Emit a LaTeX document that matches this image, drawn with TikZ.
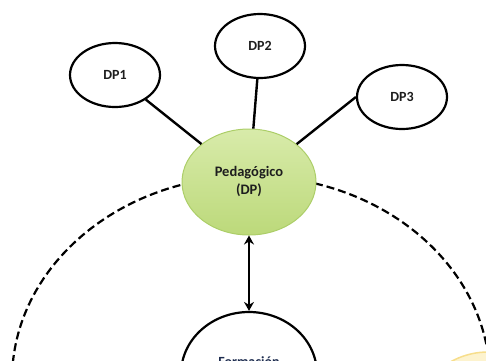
\documentclass[tikz,border=0pt]{standalone}
\usepackage{fontspec}
\setmainfont{Carlito}
\usetikzlibrary{shapes.geometric,arrows.meta}
\definecolor{pedtop}{RGB}{216,235,170}
\definecolor{pedbot}{RGB}{188,217,122}
\definecolor{pededge}{RGB}{172,206,104}
\definecolor{txtdark}{RGB}{30,30,30}
\definecolor{navytxt}{RGB}{30,45,80}
\definecolor{yelfill}{RGB}{253,243,206}
\definecolor{yeledge}{RGB}{247,222,140}
\tikzset{
  dpbubble/.style={ellipse, draw=black, line width=2.2pt, fill=white,
    minimum width=90pt, minimum height=64pt, inner sep=0pt,
    font=\bfseries\fontsize{14}{16}\selectfont, text=txtdark},
  hub/.style={ellipse, draw=pededge, line width=1pt,
    top color=pedtop, bottom color=pedbot,
    minimum width=134pt, minimum height=106pt, inner sep=0pt, align=center,
    font=\bfseries\fontsize{14.5}{18}\selectfont, text=txtdark},
  spoke/.style={draw=black, line width=2.4pt},
  ring/.style={draw=black, line width=2.2pt, dash pattern=on 8pt off 4pt},
  link/.style={draw=black, line width=2pt,
    {Stealth[length=9pt,width=10pt,inset=3pt]}-{Stealth[length=9pt,width=10pt,inset=3pt]}}
}
\begin{document}
\begin{tikzpicture}[x=1pt,y=-1pt]
  \useasboundingbox (0,0) rectangle (486,360);
  \clip (0,0) rectangle (486,360);

  % dashed outer ring
  \draw[ring] (251,380) ellipse [x radius=239pt, y radius=204pt];

  % lower circles, partly out of frame
  \draw[draw=yeledge, fill=yelfill, line width=1.5pt] (488,428) circle [radius=76pt];
  \node[ellipse, draw=black, line width=2.2pt, fill=white,
        minimum width=136pt, minimum height=124pt, inner sep=0pt] (form) at (249,374) {};
  \node[anchor=base, font=\bfseries\fontsize{14}{16}\selectfont, text=navytxt]
        (formtxt) at (249,366) {Formación};

  % central hub and its satellites
  \node[hub] (ped) at (249,182) {Pedagógico\\(DP)};
  \node[dpbubble] (dp1) at (115,75) {DP1};
  \node[dpbubble] (dp2) at (260,46) {DP2};
  \node[dpbubble] (dp3) at (402,97) {DP3};

  \draw[spoke] (ped) -- (dp1);
  \draw[spoke] (ped) -- (dp2);
  \draw[spoke] (ped) -- (dp3.west);

  \draw[link] (ped.south) -- (form.north);
\end{tikzpicture}
\end{document}
